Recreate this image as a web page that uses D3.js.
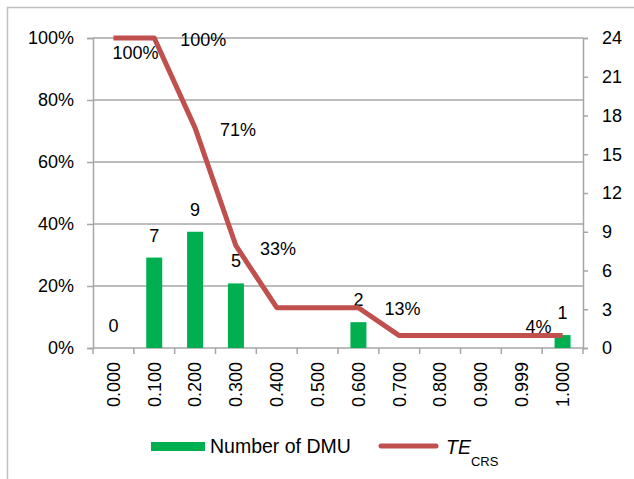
<!doctype html>
<html>
<head>
<meta charset="utf-8">
<script src="https://cdnjs.cloudflare.com/ajax/libs/d3/7.8.5/d3.min.js"></script>
<style>
  body { margin: 0; background: #fff; }
  svg text { font-family: "Liberation Sans", Arial, sans-serif; fill: #000; }
</style>
</head>
<body>
<div id="viz"></div>
<script>
// data
var categories = ["0.000", "0.100", "0.200", "0.300", "0.400", "0.500",
                  "0.600", "0.700", "0.800", "0.900", "0.999", "1.000"];
var dmuCounts = [0, 7, 9, 5, 0, 0, 2, 0, 0, 0, 0, 1];
var teCrs = [100, 100, 71, 33, 13, 13, 13, 4, 4, 4, 4, 4];
var leftTicks = [0, 20, 40, 60, 80, 100];
var rightTicks = [0, 3, 6, 9, 12, 15, 18, 21, 24];
var barLabelIdx = [0, 1, 2, 3, 6, 11];
var teLabelIdx = [0, 1, 2, 3, 6, 11];

var width = 634, height = 479;
var margin = { top: 38, right: 51, bottom: 131, left: 93 };

var svg = d3.select("#viz").append("svg")
    .attr("width", width)
    .attr("height", height);

// outer frame (only top and left visible)
svg.append("path")
    .attr("d", "M7.5," + height + "V7.5H" + width)
    .attr("fill", "none")
    .attr("stroke", "#bfbfbf")
    .attr("stroke-width", 1.5);

var x = d3.scaleBand()
    .domain(categories)
    .range([margin.left, width - margin.right])
    .paddingInner(0).paddingOuter(0);

var yLeft = d3.scaleLinear().domain([0, 100]).range([height - margin.bottom, margin.top]);
var yRight = d3.scaleLinear().domain([0, 24]).range([height - margin.bottom, margin.top]);

var gridColor = "#a6a6a6";

// gridlines
svg.append("g").selectAll("line")
    .data(leftTicks.filter(function (d) { return d > 0; }))
    .enter().append("line")
    .attr("x1", margin.left).attr("x2", width - margin.right)
    .attr("y1", function (d) { return yLeft(d); })
    .attr("y2", function (d) { return yLeft(d); })
    .attr("stroke", gridColor).attr("stroke-width", 1.5);

// left axis
var axL = svg.append("g")
    .attr("transform", "translate(" + margin.left + ",0)")
    .call(d3.axisLeft(yLeft).tickValues(leftTicks).tickSize(6).tickPadding(13)
        .tickFormat(function (d) { return d + "%"; }));
axL.select(".domain").attr("stroke", gridColor).attr("stroke-width", 1.5);
axL.selectAll(".tick line").attr("stroke", gridColor).attr("stroke-width", 1.5);
axL.selectAll("text").style("font-size", "18px");

// right axis
var axR = svg.append("g")
    .attr("transform", "translate(" + (width - margin.right) + ",0)")
    .call(d3.axisRight(yRight).tickValues(rightTicks).tickSize(5).tickPadding(14));
axR.select(".domain").attr("stroke", gridColor).attr("stroke-width", 1.5);
axR.selectAll(".tick line").attr("stroke", gridColor).attr("stroke-width", 1.5);
axR.selectAll("text").style("font-size", "18px");

// bottom axis with ticks at band edges
var baseY = height - margin.bottom;
svg.append("line")
    .attr("x1", margin.left).attr("x2", width - margin.right)
    .attr("y1", baseY).attr("y2", baseY)
    .attr("stroke", gridColor).attr("stroke-width", 1.5);
svg.append("g").selectAll("line")
    .data(categories.concat(["end"]))
    .enter().append("line")
    .attr("x1", function (d, i) { return i < categories.length ? x(d) : x.range()[1]; })
    .attr("x2", function (d, i) { return i < categories.length ? x(d) : x.range()[1]; })
    .attr("y1", baseY).attr("y2", baseY + 6)
    .attr("stroke", gridColor).attr("stroke-width", 1.5);

svg.append("g").selectAll("text")
    .data(categories)
    .enter().append("text")
    .attr("transform", function (d) {
        return "translate(" + (x(d) + x.bandwidth() / 2) + "," + (baseY + 14) + ")rotate(-90)";
    })
    .attr("dy", "0.35em")
    .style("text-anchor", "end")
    .style("font-size", "18px")
    .text(function (d) { return d; });

// bars
var barW = 16;
svg.append("g").selectAll("rect")
    .data(dmuCounts)
    .enter().append("rect")
    .attr("x", function (d, i) { return x(categories[i]) + x.bandwidth() / 2 - barW / 2; })
    .attr("y", function (d) { return yRight(d); })
    .attr("width", barW)
    .attr("height", function (d) { return yRight(0) - yRight(d); })
    .attr("fill", "#00b050");

// bar labels
svg.append("g").selectAll("text")
    .data(barLabelIdx)
    .enter().append("text")
    .attr("x", function (i) { return x(categories[i]) + x.bandwidth() / 2; })
    .attr("y", function (i) { return yRight(dmuCounts[i]) - 16; })
    .style("text-anchor", "middle")
    .style("font-size", "18px")
    .text(function (i) { return dmuCounts[i]; });

// TE_CRS line
var line = d3.line()
    .x(function (d, i) { return x(categories[i]) + x.bandwidth() / 2; })
    .y(function (d) { return yLeft(d); });
svg.append("path")
    .datum(teCrs)
    .attr("d", line)
    .attr("fill", "none")
    .attr("stroke", "#c0504d")
    .attr("stroke-width", 5)
    .attr("stroke-linejoin", "round");

// line labels, offsets per label
var teLabelOffset = [[22, 15], [49, 2], [43, 2], [42, 3], [44, 1], [-24, -9]];
svg.append("g").selectAll("text")
    .data(teLabelIdx)
    .enter().append("text")
    .attr("x", function (i, k) { return x(categories[i]) + x.bandwidth() / 2 + teLabelOffset[k][0]; })
    .attr("y", function (i, k) { return yLeft(teCrs[i]) + teLabelOffset[k][1]; })
    .attr("dy", "0.35em")
    .style("text-anchor", "middle")
    .style("font-size", "18px")
    .text(function (i) { return teCrs[i] + "%"; });

// legend
var lg = svg.append("g");
lg.append("rect")
    .attr("x", 151).attr("y", 442).attr("width", 54).attr("height", 9)
    .attr("fill", "#00b050");
lg.append("text")
    .attr("x", 210).attr("y", 453)
    .style("font-size", "19.5px")
    .text("Number of DMU");
lg.append("line")
    .attr("x1", 381).attr("x2", 436).attr("y1", 446).attr("y2", 446)
    .attr("stroke", "#c0504d").attr("stroke-width", 5).attr("stroke-linecap", "round");
var te = lg.append("text")
    .attr("x", 446).attr("y", 454)
    .style("font-size", "19.5px");
te.append("tspan").style("font-style", "italic").text("TE");
te.append("tspan").attr("dy", 12).style("font-size", "13px").text("CRS");
</script>
</body>
</html>
